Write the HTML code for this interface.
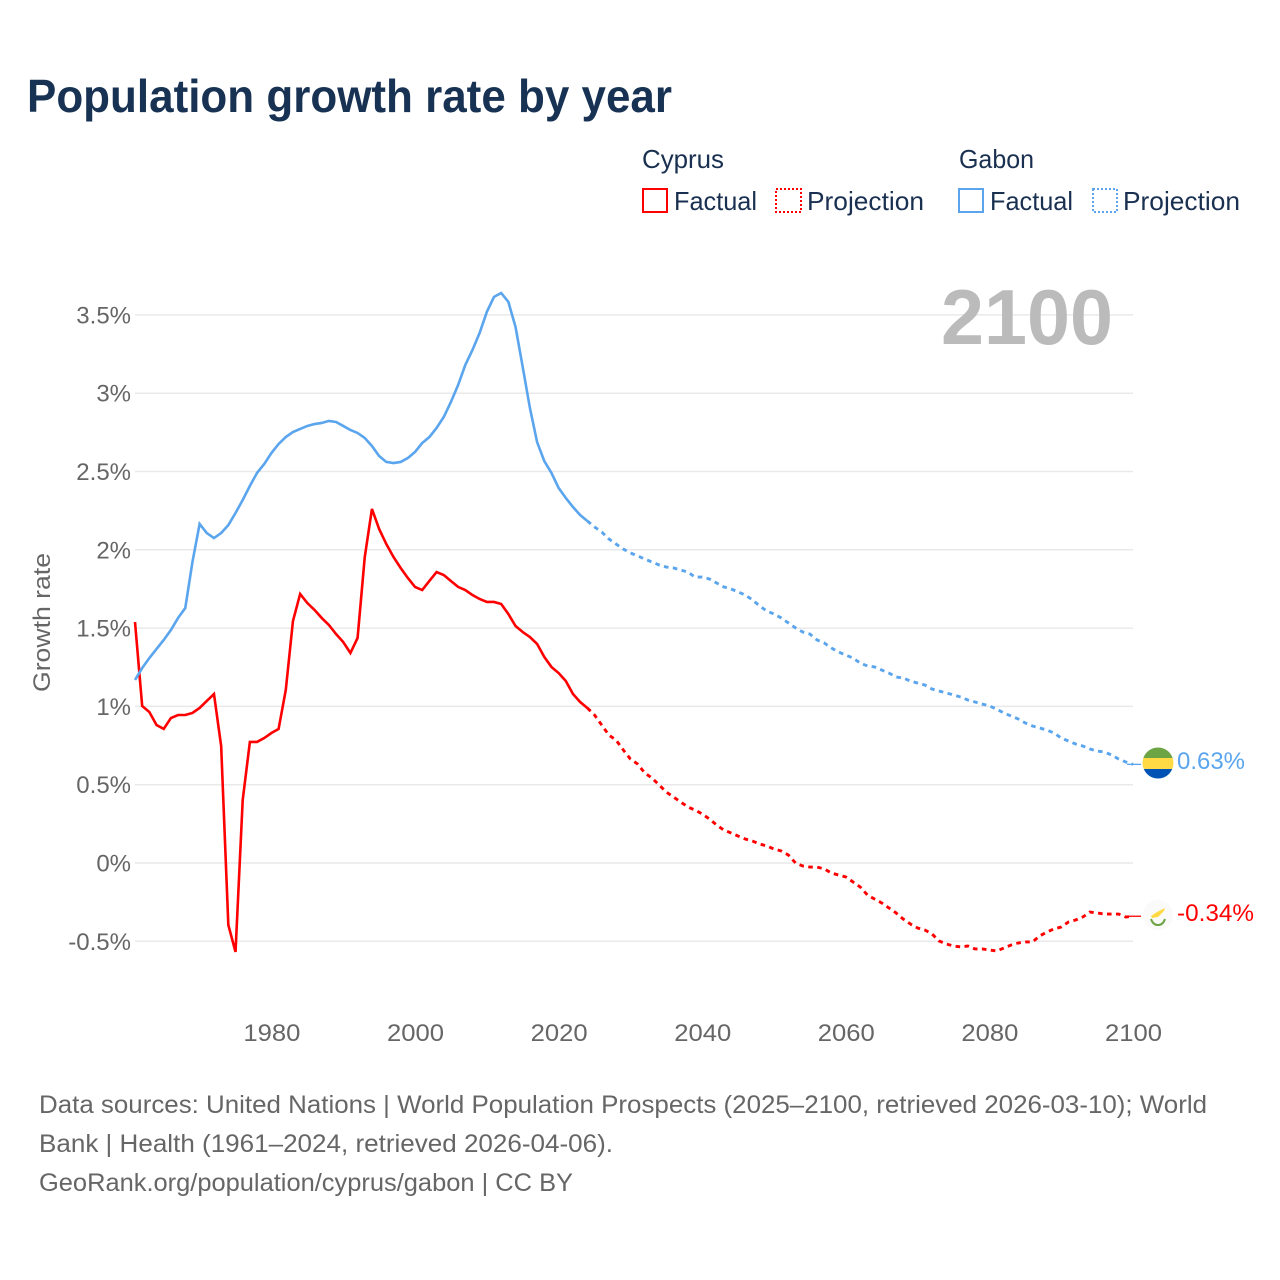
<!DOCTYPE html>
<html lang="en">
<head>
<meta charset="utf-8">
<title>Population growth rate by year</title>
<style>
html,body{margin:0;padding:0;background:#fff;}
body{width:1280px;height:1280px;overflow:hidden;}
svg{display:block;font-family:"Liberation Sans",sans-serif;}
</style>
</head>
<body>
<svg id="chart" xmlns="http://www.w3.org/2000/svg" width="1280" height="1280" viewBox="0 0 1280 1280">
  <rect x="0" y="0" width="1280" height="1280" fill="#ffffff"/>
  <text x="27" y="112" font-size="46" font-weight="700" fill="#173253" textLength="645" lengthAdjust="spacingAndGlyphs">Population growth rate by year</text>

  <g font-size="26" fill="#1a3050">
    <text x="642" y="168" textLength="82" lengthAdjust="spacingAndGlyphs">Cyprus</text>
    <text x="959" y="168" textLength="75" lengthAdjust="spacingAndGlyphs">Gabon</text>
    <rect x="643" y="189" width="24" height="23" fill="none" stroke="#ff0000" stroke-width="2"/>
    <text x="674" y="210" textLength="83" lengthAdjust="spacingAndGlyphs">Factual</text>
    <rect x="776" y="189" width="25" height="23" fill="none" stroke="#ff0000" stroke-width="2" stroke-dasharray="2 2"/>
    <text x="807" y="210" textLength="117" lengthAdjust="spacingAndGlyphs">Projection</text>
    <rect x="959" y="189" width="24" height="23" fill="none" stroke="#5aa5ed" stroke-width="2"/>
    <text x="990" y="210" textLength="83" lengthAdjust="spacingAndGlyphs">Factual</text>
    <rect x="1093" y="189" width="24" height="23" fill="none" stroke="#5aa5ed" stroke-width="2" stroke-dasharray="2 2"/>
    <text x="1123" y="210" textLength="117" lengthAdjust="spacingAndGlyphs">Projection</text>
  </g>

  <g id="grid"></g>
  <g id="yticks"></g>
  <g id="xticks"></g>
  <text transform="translate(50,622.5) rotate(-90)" text-anchor="middle" font-size="24" fill="#666666" textLength="139" lengthAdjust="spacingAndGlyphs">Growth rate</text>
  <text x="941" y="344" font-size="78" font-weight="700" fill="#bbbbbb" textLength="172" lengthAdjust="spacingAndGlyphs">2100</text>
  <g id="series"></g>

  <g>
    <clipPath id="gabon-clip"><circle cx="1158" cy="763" r="15.5"/></clipPath>
    <g clip-path="url(#gabon-clip)">
      <rect x="1142" y="747" width="32" height="11" fill="#6da544"/>
      <rect x="1142" y="758" width="32" height="11" fill="#ffda44"/>
      <rect x="1142" y="769" width="32" height="11" fill="#0052b4"/>
    </g>
  </g>
  <g>
    <circle cx="1158" cy="915" r="15" fill="#fafafa"/>
    <path d="M1151 916 L1157 912 L1165 908 L1164 911 L1158 917 L1152 918 Z" fill="#ffda44"/>
    <path d="M1151 919 Q1153 925 1158 925 Q1163 925 1165 919" fill="none" stroke="#6da544" stroke-width="2"/>
  </g>
  <text x="1177" y="769" font-size="24" fill="#5aa5ed" textLength="68" lengthAdjust="spacingAndGlyphs">0.63%</text>
  <text x="1177" y="921" font-size="24" fill="#ff0000" textLength="77" lengthAdjust="spacingAndGlyphs">-0.34%</text>

  <g font-size="25" fill="#666666">
    <text x="39" y="1113" textLength="1168" lengthAdjust="spacingAndGlyphs">Data sources: United Nations | World Population Prospects (2025–2100, retrieved 2026-03-10); World</text>
    <text x="39" y="1152" textLength="574" lengthAdjust="spacingAndGlyphs">Bank | Health (1961–2024, retrieved 2026-04-06).</text>
    <text x="39" y="1191" textLength="534" lengthAdjust="spacingAndGlyphs">GeoRank.org/population/cyprus/gabon | CC BY</text>
  </g>
</svg>
<script>
const yTicks = [3.5, 3, 2.5, 2, 1.5, 1, 0.5, 0, -0.5];
const yTickLabels = ["3.5%", "3%", "2.5%", "2%", "1.5%", "1%", "0.5%", "0%", "-0.5%"];
const xTicks = [1980, 2000, 2020, 2040, 2060, 2080, 2100];
const xTickLabels = ["1980", "2000", "2020", "2040", "2060", "2080", "2100"];
const factualStartYear = 1961;
const projectionStartYear = 2025;
const cyprusFactual = [1.539,1.003,.964,.881,.856,.926,.945,.945,.958,.990,1.035,1.079,.747,-.396,-.568,.402,.773,.773,.798,.830,.856,1.105,1.545,1.718,1.660,1.616,1.565,1.520,1.462,1.411,1.341,1.437,1.954,2.261,2.133,2.037,1.954,1.884,1.820,1.763,1.743,1.801,1.858,1.839,1.801,1.763,1.743,1.711,1.686,1.667,1.667,1.654,1.590,1.513,1.475,1.443,1.399,1.316,1.252,1.213,1.162,1.079,1.028,.990];
const cyprusProjection = [.945,.881,.817,.785,.722,.664,.632,.575,.543,.498,.453,.421,.390,.358,.338,.313,.281,.243,.211,.192,.172,.153,.140,.121,.109,.089,.077,.051,0,-.019,-.026,-.026,-.038,-.064,-.077,-.089,-.121,-.153,-.204,-.230,-.255,-.287,-.319,-.358,-.390,-.415,-.428,-.453,-.498,-.517,-.530,-.536,-.530,-.549,-.549,-.556,-.562,-.543,-.524,-.511,-.504,-.504,-.466,-.441,-.421,-.409,-.377,-.364,-.345,-.313,-.319,-.326,-.326,-.326,-.345,-.34];
const gabonFactual = [1.169,1.245,1.309,1.367,1.424,1.488,1.565,1.628,1.922,2.165,2.107,2.075,2.107,2.158,2.235,2.318,2.408,2.491,2.548,2.618,2.676,2.720,2.752,2.772,2.791,2.803,2.810,2.823,2.816,2.791,2.765,2.746,2.714,2.663,2.599,2.561,2.554,2.561,2.586,2.625,2.682,2.720,2.778,2.848,2.944,3.052,3.180,3.276,3.385,3.519,3.615,3.640,3.583,3.423,3.167,2.906,2.688,2.567,2.491,2.395,2.331,2.273,2.222,2.184];
const gabonProjection = [2.146,2.114,2.069,2.037,2.005,1.980,1.961,1.941,1.922,1.903,1.890,1.884,1.871,1.858,1.826,1.826,1.814,1.788,1.763,1.750,1.731,1.711,1.680,1.641,1.609,1.590,1.565,1.533,1.501,1.475,1.462,1.424,1.405,1.373,1.347,1.328,1.309,1.277,1.258,1.252,1.232,1.213,1.188,1.181,1.162,1.149,1.137,1.111,1.098,1.086,1.073,1.060,1.041,1.028,1.015,1.003,.983,.958,.939,.920,.894,.875,.862,.849,.830,.798,.779,.760,.747,.728,.715,.709,.690,.664,.645,.63];

const NS = 'http://www.w3.org/2000/svg';
const xScale = function (year) { return 135 + (year - 1961) * 7.18; };
const yScale = function (v) { return 863 - v * 156.6; };
const RED = '#ff0000';
const BLUE = '#5aa5ed';

function svgEl(tag, attrs, parent) {
  const el = document.createElementNS(NS, tag);
  for (const k in attrs) el.setAttribute(k, attrs[k]);
  parent.appendChild(el);
  return el;
}
function pointsFor(values, startYear) {
  return values.map(function (v, i) {
    return xScale(startYear + i).toFixed(2) + ',' + yScale(v).toFixed(2);
  }).join(' ');
}

const gridG = document.getElementById('grid');
const yTickG = document.getElementById('yticks');
const xTickG = document.getElementById('xticks');
const seriesG = document.getElementById('series');

yTicks.forEach(function (t, i) {
  const gridline = svgEl('line', { x1: 135, x2: 1133, y1: yScale(t), y2: yScale(t), stroke: '#e9e9e9', 'stroke-width': 1.5 }, gridG);
  
  
  const label = svgEl('text', { x: 131, y: yScale(t) + 8.5, 'text-anchor': 'end', 'font-size': 24, fill: '#666666' }, yTickG);
  
  
  label.textContent = yTickLabels[i];
});

xTicks.forEach(function (t, i) {
  const label = svgEl('text', { x: xScale(t) + 0.5, y: 1041, 'text-anchor': 'middle', 'font-size': 24, fill: '#666666', textLength: 57, lengthAdjust: 'spacingAndGlyphs' }, xTickG);
  
  
  label.textContent = xTickLabels[i];
});

const cyprusFactualLine = svgEl('polyline', { points: pointsFor(cyprusFactual, factualStartYear), fill: 'none', stroke: RED, 'stroke-width': 2.6, 'stroke-linejoin': 'miter' }, seriesG);



const gabonFactualLine = svgEl('polyline', { points: pointsFor(gabonFactual, factualStartYear), fill: 'none', stroke: BLUE, 'stroke-width': 2.6, 'stroke-linejoin': 'miter' }, seriesG);



const cyprusJoin = xScale(2024) + ',' + yScale(cyprusFactual[cyprusFactual.length - 1]) + ' ';
const cyprusProjectionLine = svgEl('polyline', { points: cyprusJoin + pointsFor(cyprusProjection, projectionStartYear), fill: 'none', stroke: RED, 'stroke-width': 2.9, 'stroke-dasharray': '4.6 4.4' }, seriesG);



const gabonJoin = xScale(2024) + ',' + yScale(gabonFactual[gabonFactual.length - 1]) + ' ';
const gabonProjectionLine = svgEl('polyline', { points: gabonJoin + pointsFor(gabonProjection, projectionStartYear), fill: 'none', stroke: BLUE, 'stroke-width': 2.9, 'stroke-dasharray': '4.6 4.4' }, seriesG);



const cyprusEnd = yScale(cyprusProjection[cyprusProjection.length - 1]);
const cyprusConnector = svgEl('line', { x1: xScale(2100) - 6, x2: xScale(2100) + 8, y1: cyprusEnd, y2: cyprusEnd, stroke: RED, 'stroke-width': 1.3 }, seriesG);



const gabonEnd = yScale(gabonProjection[gabonProjection.length - 1]);
const gabonConnector = svgEl('line', { x1: xScale(2100) - 6, x2: xScale(2100) + 8, y1: gabonEnd, y2: gabonEnd, stroke: BLUE, 'stroke-width': 1.3 }, seriesG);


</script>
</body>
</html>
